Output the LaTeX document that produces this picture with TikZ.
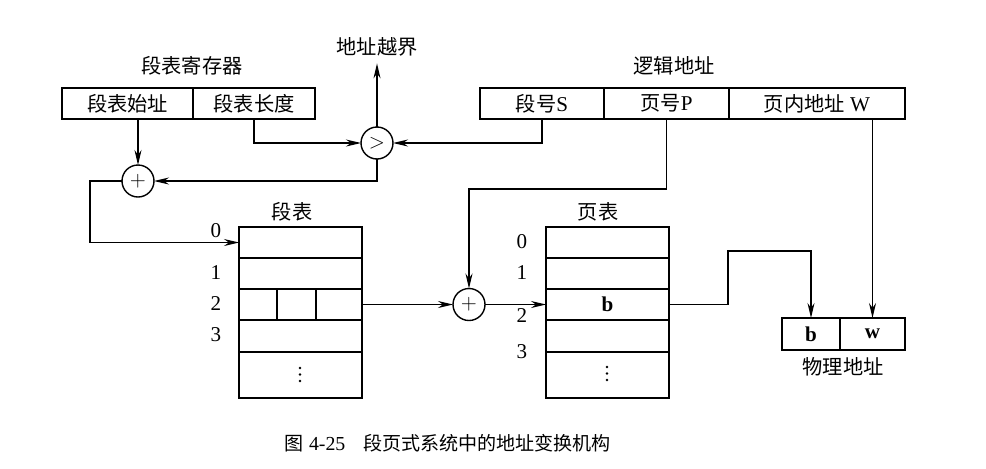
\documentclass[tikz,border=0pt]{standalone}
\usepackage{fontspec}
\setmainfont{Liberation Serif}
\newfontfamily\cjk{Noto Sans CJK SC}[Scale=0.96]
\usetikzlibrary{arrows.meta}
\begin{document}
\begin{tikzpicture}[x=0.02cm,y=-0.02cm,
  font=\fontsize{12}{14}\selectfont,
  every node/.style={inner sep=0pt, outer sep=0pt},
  cell/.style={draw, line width=0.9pt, minimum height=0.62cm},
  op/.style={draw, circle, line width=0.8pt, minimum size=0.64cm},
  conn/.style={line width=0.7pt},
  arr/.style={conn, -{Stealth[length=0.3cm, width=0.14cm]}},
  lbl/.style={}]
\useasboundingbox (0,0) rectangle (986,468);
% segment table register
\node[lbl] (regl) at (192,66) {\cjk 段表寄存器};
\node[cell, minimum width=2.62cm] (r1) at (127.5,103.5) {\cjk 段表始址};
\node[cell, minimum width=2.44cm] (r2) at (254,103.5) {\cjk 段表长度};
% logical address
\node[lbl] (logl) at (674,66) {\cjk 逻辑地址};
\node[cell, minimum width=2.48cm] (ls) at (542,103.5) {{\cjk 段号}S};
\node[cell, minimum width=2.50cm] (lp) at (666.5,103.5) {{\cjk 页号}P};
\node[cell, minimum width=3.52cm] (lw) at (817,103.5) {{\cjk 页内地址} W};
% operators
\node[op] (cmp) at (377,143) {$>$};
\node[lbl] (oob) at (377,47) {\cjk 地址越界};
\node[op] (p1) at (138,181) {$+$};
\node[op] (p2) at (469,304.5) {$+$};
% segment table
\node[lbl] (segl) at (292,212) {\cjk 段表};
\node[cell, minimum width=2.46cm, minimum height=0.62cm] (s0) at (300.5,242.5) {};
\node[cell, minimum width=2.46cm, minimum height=0.62cm] (s1) at (300.5,273.5) {};
\node[cell, minimum width=0.76cm, minimum height=0.62cm] (s2a) at (258,304.5) {};
\node[cell, minimum width=0.78cm, minimum height=0.62cm] (s2b) at (296.5,304.5) {};
\node[cell, minimum width=0.92cm, minimum height=0.62cm] (s2c) at (339,304.5) {};
\node[cell, minimum width=2.46cm, minimum height=0.64cm] (s3) at (300.5,336) {};
\node[cell, minimum width=2.46cm, minimum height=0.92cm] (s4) at (300.5,375) {};
\fill (300,368) circle[radius=1.4] (300,374.5) circle[radius=1.4] (300,381) circle[radius=1.4];
\node (sn0) at (216,231) {0};
\node (sn1) at (216,273) {1};
\node (sn2) at (216,304) {2};
\node (sn3) at (216,335) {3};
% page table
\node[lbl] (pgl) at (598,212) {\cjk 页表};
\node[cell, minimum width=2.46cm, minimum height=0.62cm] (g0) at (607.5,242.5) {};
\node[cell, minimum width=2.46cm, minimum height=0.62cm] (g1) at (607.5,273.5) {};
\node[cell, minimum width=2.46cm, minimum height=0.62cm] (g2) at (607.5,304.5) {\textbf{b}};
\node[cell, minimum width=2.46cm, minimum height=0.64cm] (g3) at (607.5,336) {};
\node[cell, minimum width=2.46cm, minimum height=0.92cm] (g4) at (607.5,375) {};
\fill (607,367) circle[radius=1.4] (607,373.5) circle[radius=1.4] (607,380) circle[radius=1.4];
\node (gn0) at (522,242) {0};
\node (gn1) at (522,273) {1};
\node (gn2) at (522,316) {2};
\node (gn3) at (522,352) {3};
% physical address
\node[cell, minimum width=1.16cm, minimum height=0.64cm] (phb) at (811,334) {\textbf{b}};
\node[cell, minimum width=1.30cm, minimum height=0.64cm] (phw) at (872.5,334) {\textbf{w}};
\node[lbl] (phl) at (843,367) {\cjk 物理地址};
% caption
\node[font=\fontsize{11.3}{13}\selectfont] (cap) at (448,443) {{\cjk 图} 4-25\hspace{0.9em}{\cjk 段页式系统中的地址变换机构}};
% connectors
\draw[arr] (cmp.north) -- ([yshift=-4pt]oob.south);
\draw[arr] (r2.south) |- (cmp.west);
\draw[arr] (ls.south) |- (cmp.east);
\draw[arr] (p1 |- r1.south) -- (p1.north);
\draw[arr] (cmp.south) |- (p1.east);
\coordinate (t1) at (90,181);
\draw[arr] (p1.west) -- (t1) |- (s0.west);
\draw[arr] (s2c.east) -- (p2.west);
\coordinate (t2) at (666.5,189);
\draw[arr] (lp.south) -- (t2) -| (p2.north);
\draw[arr] (p2.east) -- (g2.west);
\coordinate (t3) at (728,304.5);
\coordinate (t4) at (728,251);
\draw[arr] (g2.east) -- (t3) -- (t4) -| (phb.north);
\draw[arr] (phw.north |- lw.south) -- (phw.north);
\end{tikzpicture}
\end{document}
